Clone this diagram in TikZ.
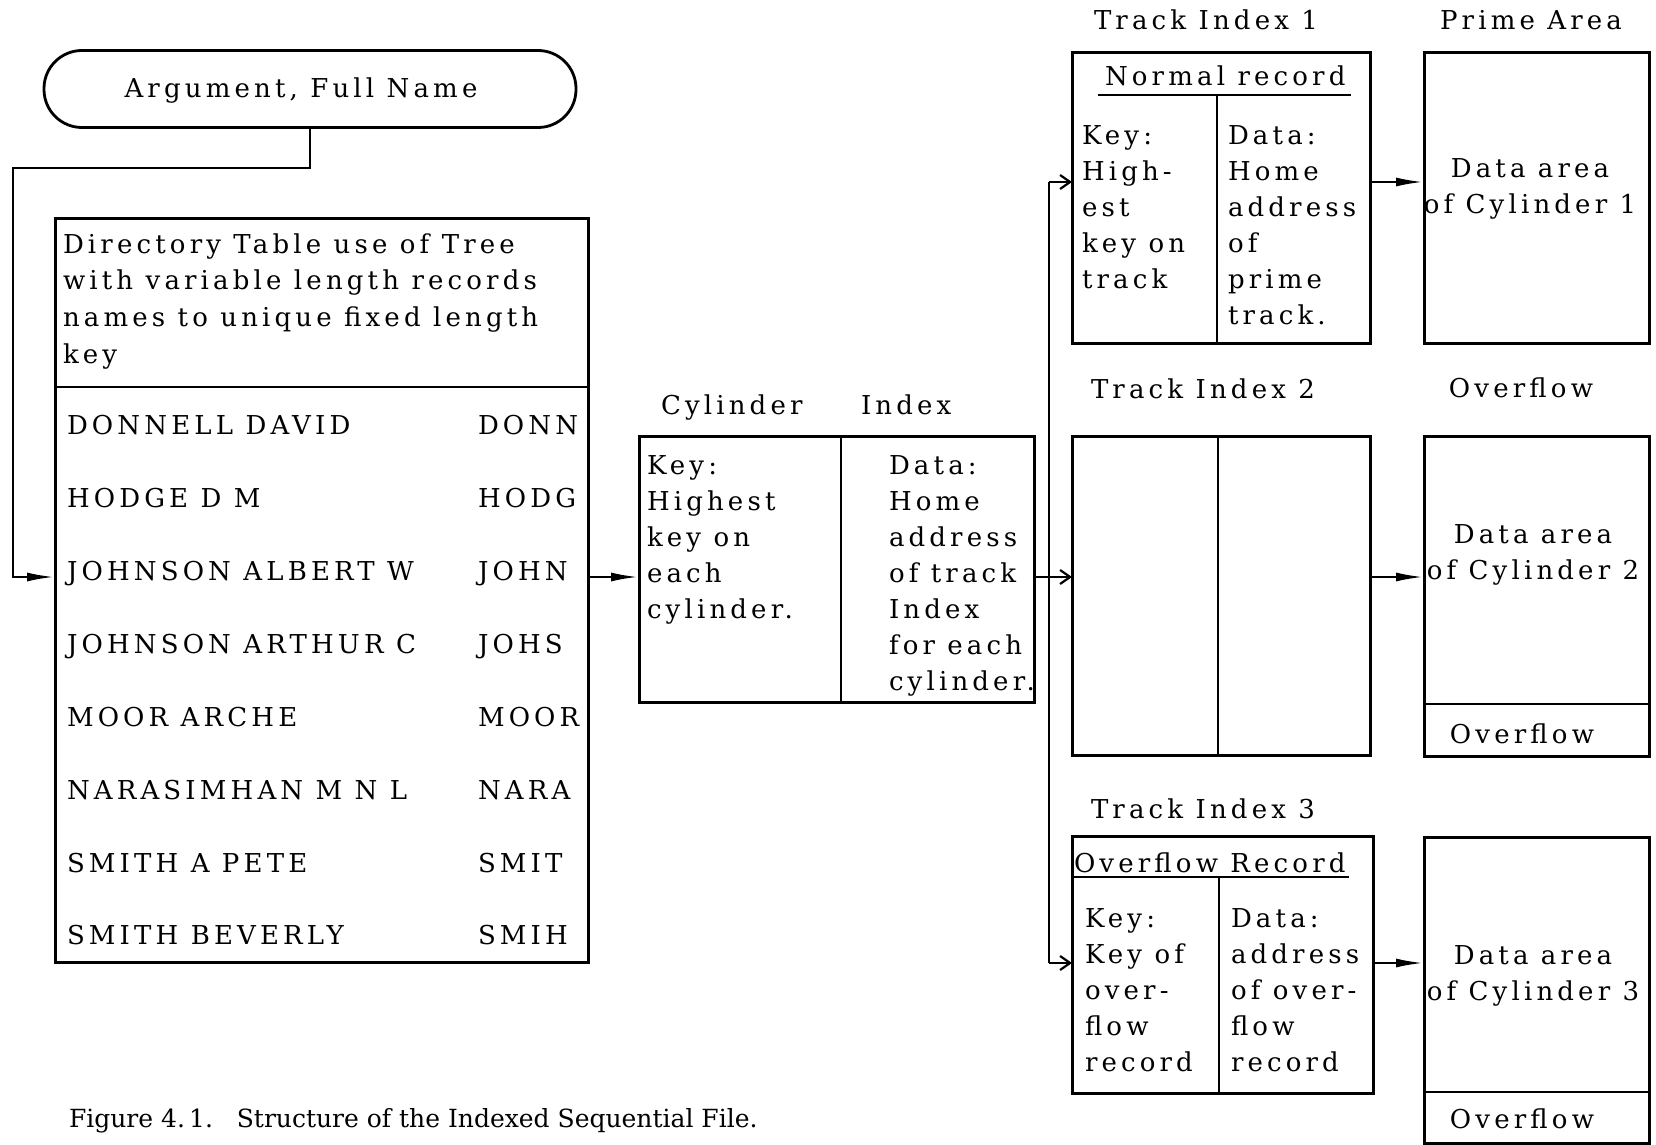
\documentclass[tikz,border=0pt]{standalone}
\usepackage{fontspec}
\setmainfont{DejaVu Serif}[LetterSpace=16]
\newfontfamily\captionfont{DejaVu Serif}
\usetikzlibrary{arrows.meta,fit}

\begin{document}
\begin{tikzpicture}[x=0.5pt,y=-0.5pt,
  every node/.style={inner sep=0pt, outer sep=0pt, font=\fontsize{13}{18}\selectfont},
  frame/.style={draw, line width=1.5pt, inner sep=0pt, fit={#1}},
  sep/.style={line width=1pt},
  txt/.style={anchor=base west},
  col/.style={anchor=north west, align=left},
  ctr/.style={anchor=north, align=center},
  conn/.style={line width=1.3pt},
  arrF/.style={conn, -{Latex[length=14pt,width=4.5pt]}},
  arrO/.style={conn, -{Straight Barb[length=5pt,width=7pt,line width=1.1pt]}}]

\useasboundingbox (0,0) rectangle (1656,1145);

% ---- start symbol
\node[draw, line width=1.4pt, rounded corners=19pt, minimum width=266pt, minimum height=38.5pt]
  (term) at (310,89) {};
\node[anchor=base] (termtxt) at (301,98) {Argument,\ Full Name};

% ---- directory table
\node[frame={(55,219) (588,962)}] (dir) {};
\draw[sep, line width=1.3pt] (55,387) -- (588,387);
\node[col, font=\fontsize{13}{18.3}\selectfont] (dirhead) at (63,233.5)
  {Directory Table use of Tree\\with variable length records\\names to unique fixed length\\key};
\foreach \nm/\ky [count=\i from 0] in {DONNELL DAVID/DONN, HODGE D M/HODG,
    JOHNSON ALBERT W/JOHN, JOHNSON ARTHUR C/JOHS, MOOR ARCHE/MOOR,
    NARASIMHAN M N L/NARA, SMITH A PETE/SMIT, SMITH BEVERLY/SMIH} {
  \node[txt] (name\i) at (67,434.6+72.9*\i) {\nm};
  \node[txt] (key\i) at (478,434.6+72.9*\i) {\ky};
}
\coordinate (rowJ) at (300,577);
\coordinate (bendA) at (13,168);

% ---- cylinder index
\node[txt] (cyllab) at (661,414) {Cylinder};
\node[txt] (idxlab) at (861,414) {Index};
\node[frame={(639,436) (1034,702)}] (cyl) {};
\draw[sep] (841,436) -- (841,702);
\node[col] (cylkey) at (647,455.5) {Key:\\Highest\\key on\\each\\cylinder.};
\node[col] (cyldata) at (889,455.5) {Data:\\Home\\address\\of track\\Index\\for each\\cylinder.};

% ---- track index 1
\node[txt] (ti1lab) at (1094,30) {Track Index 1};
\node[frame={(1072,53) (1370,343)}] (ti1) {};
\node[txt] (ti1head) at (1105,86) {Normal record};
\draw[sep] (1098,95) -- (1351,95);
\draw[sep] (1217,95) -- (1217,343);
\node[col] (ti1key) at (1082,125.5) {Key:\\High-\\est\\key on\\track};
\node[col] (ti1data) at (1228,125.5) {Data:\\Home\\address\\of\\prime\\track.};

% ---- prime area
\node[anchor=base] (primelab) at (1531,30) {Prime Area};
\node[frame={(1424,53) (1649,343)}] (prime) {};
\node[ctr] (primetxt) at (1530,158.5) {Data area\\of Cylinder 1};

% ---- track index 2
\node[txt] (ti2lab) at (1091,398) {Track Index 2};
\node[frame={(1072,436) (1370,755)}] (ti2) {};
\draw[sep] (1218,436) -- (1218,755);

% ---- cylinder 2 with overflow
\node[anchor=base] (ov2lab) at (1521,397) {Overflow};
\node[frame={(1424,436) (1649,756)}] (cyl2) {};
\draw[sep, line width=1.3pt] (1424,704) -- (1649,704);
\node[ctr] (cyl2txt) at (1533,524.5) {Data area\\of Cylinder 2};
\node[anchor=base] (ov2txt) at (1522,743) {Overflow};

% ---- track index 3
\node[txt] (ti3lab) at (1091,818) {Track Index 3};
\node[frame={(1072,836) (1373,1093)}] (ti3) {};
\node[txt] (ti3head) at (1074,872) {Overflow Record};
\draw[sep] (1072,877) -- (1349,877);
\draw[sep] (1219,877) -- (1219,1093);
\node[col] (ti3key) at (1085,908.5) {Key:\\Key of\\over-\\flow\\record};
\node[col] (ti3data) at (1231,908.5) {Data:\\address\\of over-\\flow\\record};

% ---- cylinder 3 with overflow
\node[frame={(1424,837) (1649,1143)}] (cyl3) {};
\draw[sep, line width=1.3pt] (1424,1092) -- (1649,1092);
\node[ctr] (cyl3txt) at (1533,945.5) {Data area\\of Cylinder 3};
\node[anchor=base] (ov3txt) at (1522,1128) {Overflow};

% ---- caption
\node[txt, font=\captionfont\fontsize{12.5}{15}\selectfont] (caption) at (69,1127)
  {Figure 4.\,1.\ \ \ Structure of the Indexed Sequential File.};

% ---- connectors
\coordinate (busT) at (1049,182);
\coordinate (busB) at (1049,963);
\draw[arrF] (term.south) |- (bendA) |- (dir.west |- rowJ);
\draw[arrF] (dir.east |- rowJ) -- (cyl.west |- rowJ);
\draw[arrO] (cyl.east |- rowJ) -- (ti2.west |- rowJ);
\draw[conn] (busT) -- (busB);
\draw[arrO] (busT) -- (ti1.west |- busT);
\draw[arrO] (busB) -- (ti3.west |- busB);
\draw[arrF] (ti1.east |- busT) -- (prime.west |- busT);
\draw[arrF] (ti2.east |- rowJ) -- (cyl2.west |- rowJ);
\draw[arrF] (ti3.east |- busB) -- (cyl3.west |- busB);
\end{tikzpicture}
\end{document}
